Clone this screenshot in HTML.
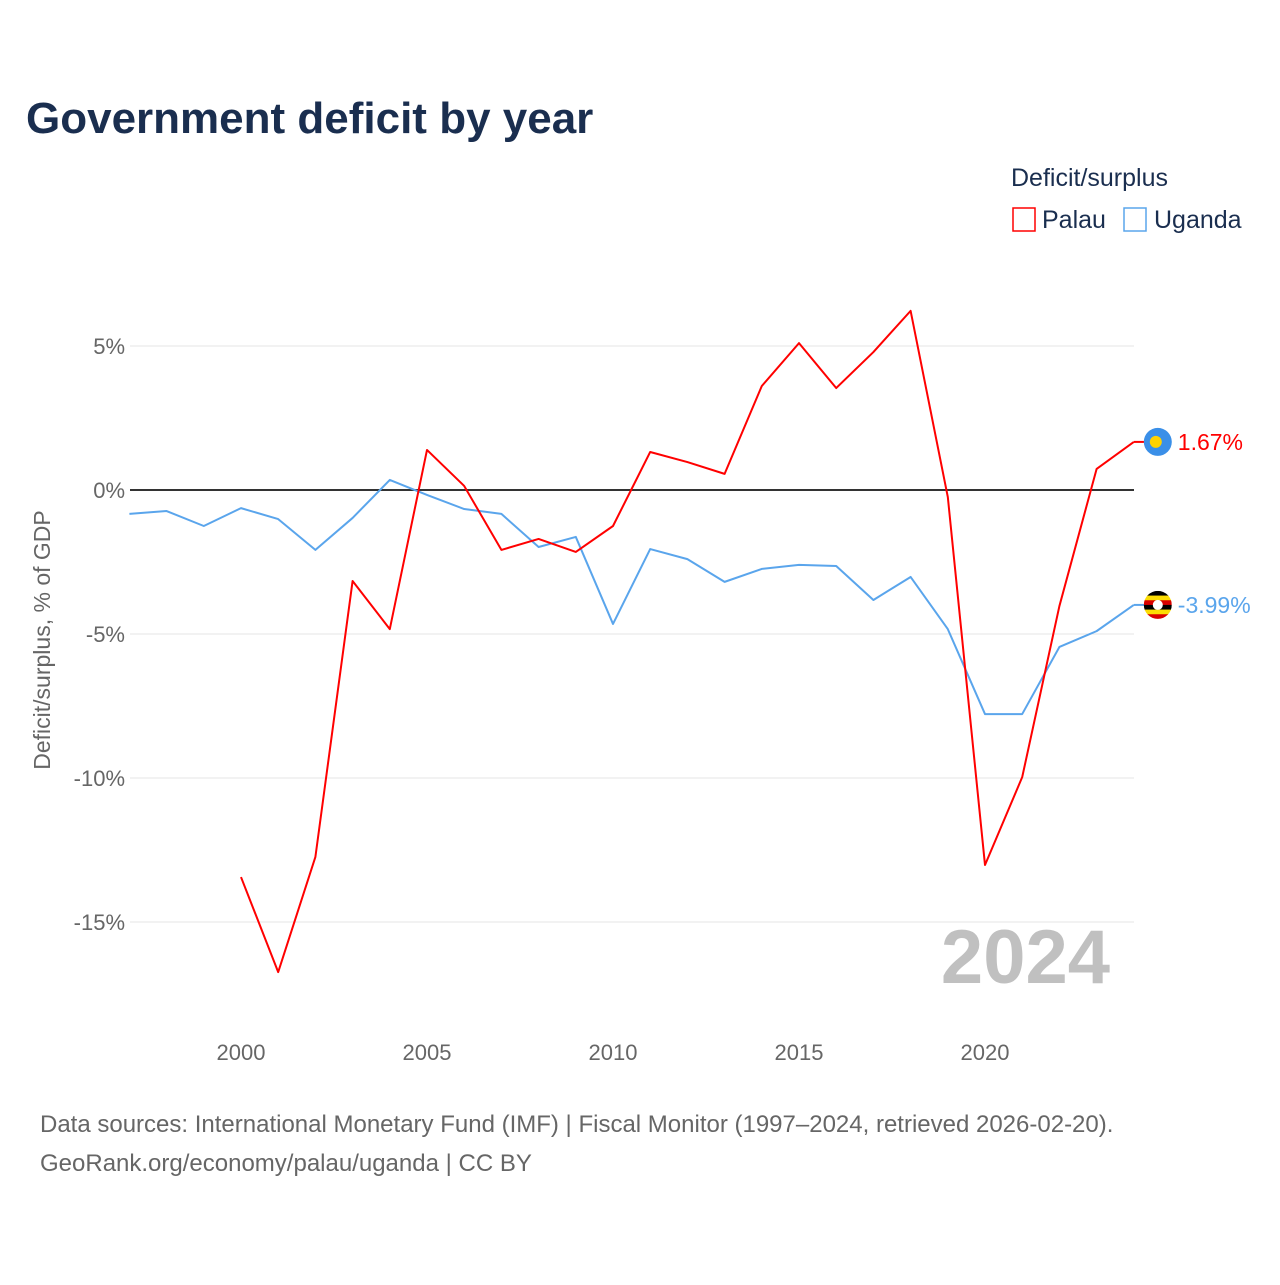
<!DOCTYPE html>
<html><head><meta charset="utf-8"><style>
body{margin:0;background:#fff;font-family:"Liberation Sans",sans-serif;}
#wrap{position:relative;width:1280px;height:1280px;}
</style></head><body>
<div id="wrap">
<svg id="chart" width="1280" height="1280">
<text x="26" y="133" font-size="44" font-weight="bold" fill="#1a2e4f">Government deficit by year</text>
<text x="1011" y="186" font-size="25" fill="#1a2e4f">Deficit/surplus</text>
<g><rect x="1013" y="208" width="22" height="23" fill="none" stroke="#ff0000" stroke-width="1.5"/><text x="1042" y="228" font-size="25" fill="#1a2e4f">Palau</text></g>
<g><rect x="1124" y="208" width="22" height="23" fill="none" stroke="#5aa5ec" stroke-width="1.5"/><text x="1154" y="228" font-size="25" fill="#1a2e4f">Uganda</text></g>
<text x="0" y="0" transform="translate(50,640) rotate(-90)" text-anchor="middle" font-size="23" fill="#666">Deficit/surplus, % of GDP</text>
<text x="1110" y="983" text-anchor="end" font-size="76" font-weight="bold" fill="#c0c0c0">2024</text>
<g id="grid"></g><g id="series"></g>
<text x="40" y="1132" font-size="24" fill="#666">Data sources: International Monetary Fund (IMF) | Fiscal Monitor (1997–2024, retrieved 2026-02-20).</text>
<text x="40" y="1171" font-size="24" fill="#666">GeoRank.org/economy/palau/uganda | CC BY</text>
</svg></div>
<script>
const yTicks=[5,0,-5,-10,-15];
const yTickLabels=["5%","0%","-5%","-10%","-15%"];
const xTicks=[2000,2005,2010,2015,2020];
const palauYears=[2000,2001,2002,2003,2004,2005,2006,2007,2008,2009,2010,2011,2012,2013,2014,2015,2016,2017,2018,2019,2020,2021,2022,2023,2024];
const palauValues=[-13.44,-16.74,-12.74,-3.16,-4.83,1.39,0.14,-2.08,-1.70,-2.15,-1.25,1.32,0.97,0.56,3.61,5.10,3.54,4.79,6.22,-0.24,-13.02,-9.97,-4.03,0.73,1.67];
const ugandaYears=[1997,1998,1999,2000,2001,2002,2003,2004,2005,2006,2007,2008,2009,2010,2011,2012,2013,2014,2015,2016,2017,2018,2019,2020,2021,2022,2023,2024];
const ugandaValues=[-0.83,-0.73,-1.25,-0.63,-1.01,-2.08,-0.97,0.35,-0.17,-0.66,-0.83,-1.98,-1.63,-4.65,-2.05,-2.40,-3.19,-2.74,-2.60,-2.64,-3.82,-3.02,-4.83,-7.78,-7.78,-5.45,-4.90,-3.99];
const NS="http://www.w3.org/2000/svg";
const X=y=>241+(y-2000)*37.2;
const Y=v=>490-v*28.8;
const x0=130,x1=1134;
const grid=document.getElementById('grid'),ser=document.getElementById('series');
function mk(tag,attrs,parent){const e=document.createElementNS(NS,tag);for(const k in attrs)e.setAttribute(k,attrs[k]);parent.appendChild(e);return e;}
yTicks.forEach((t,i)=>{
  const l=mk('line',{x1:x0,x2:x1,y1:Y(t),y2:Y(t),stroke:t===0?'#333':'#e6e6e6','stroke-width':t===0?2:1},grid);
  
  
  const tx=mk('text',{x:125,y:Y(t)+8,'text-anchor':'end','font-size':22,fill:'#666'},grid);
  tx.textContent=yTickLabels[i];
  
  
});
xTicks.forEach(t=>{
  const tx=mk('text',{x:X(t),y:1060,'text-anchor':'middle','font-size':22,fill:'#666'},grid);
  tx.textContent=t;
  
  
});
function line(years,vals,color,name){
  const p=mk('polyline',{points:years.map((y,i)=>X(y)+','+Y(vals[i])).join(' '),fill:'none',stroke:color,'stroke-width':2,'stroke-linejoin':'round'},ser);
  
  
}
line(ugandaYears,ugandaValues,'#5aa5ec','uganda-line');
line(palauYears,palauValues,'#ff0000','palau-line');
function endLabel(years,vals,color,name,flag){
  const y=years[years.length-1],v=vals[vals.length-1],px=X(y),py=Y(v);
  mk('line',{x1:px,x2:px+12,y1:py,y2:py,stroke:color,'stroke-width':2},ser);
  const g=mk('g',{},ser);
  
  
  if(flag==='palau'){mk('circle',{cx:px+24,cy:py,r:14,fill:'#3a8fe8'},g);mk('circle',{cx:px+22,cy:py,r:6,fill:'#ffd200'},g);}
  else{const c=['#000','#fcdc04','#d90000','#000','#fcdc04','#d90000'];
    mk('clipPath',{id:'uc'},g).appendChild(document.createElementNS(NS,'circle')).setAttribute('r',14);
    const cp=g.lastChild.firstChild;cp.setAttribute('cx',px+24);cp.setAttribute('cy',py);
    c.forEach((cc,i)=>mk('rect',{x:px+10,y:py-14+i*28/6,width:28,height:28/6+0.5,fill:cc,'clip-path':'url(#uc)'},g));
    mk('circle',{cx:px+24,cy:py,r:5,fill:'#fff'},g);}
  const t=mk('text',{x:px+44,y:py+8,'font-size':23,fill:color},ser);
  t.textContent=(v>0?'':'')+v.toFixed(2)+'%';
  
  
}
endLabel(palauYears,palauValues,'#ff0000','palau','palau');
endLabel(ugandaYears,ugandaValues,'#5aa5ec','uganda','uganda');
</script>
</body></html>
